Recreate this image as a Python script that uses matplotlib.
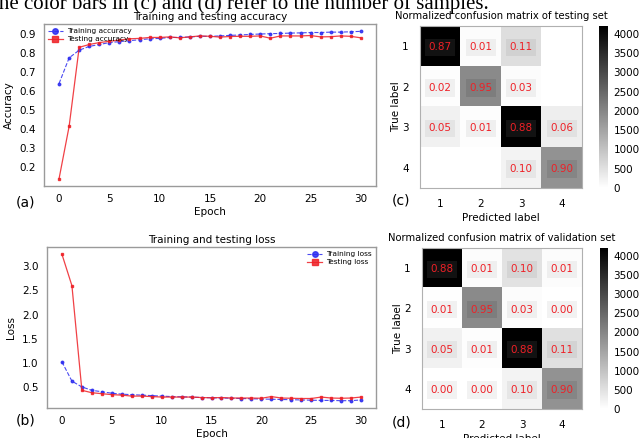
import numpy as np
import matplotlib
matplotlib.use("Agg")
import matplotlib.pyplot as plt

# --- data ---
epochs = list(range(31))

train_acc = [0.64, 0.775, 0.815, 0.835, 0.845, 0.855, 0.86, 0.865, 0.87, 0.875,
             0.877, 0.882, 0.882, 0.885, 0.888, 0.888, 0.89, 0.893, 0.895, 0.898,
             0.90, 0.902, 0.903, 0.905, 0.906, 0.908, 0.908, 0.91, 0.91, 0.912, 0.914]
test_acc = [0.14, 0.415, 0.83, 0.845, 0.855, 0.862, 0.868, 0.875, 0.877, 0.882,
            0.882, 0.885, 0.88, 0.885, 0.89, 0.888, 0.884, 0.887, 0.888, 0.888,
            0.89, 0.878, 0.89, 0.89, 0.89, 0.892, 0.885, 0.886, 0.89, 0.888, 0.88]

train_loss = [1.02, 0.62, 0.50, 0.43, 0.40, 0.37, 0.35, 0.34, 0.33, 0.32,
              0.31, 0.30, 0.295, 0.29, 0.28, 0.275, 0.27, 0.265, 0.26, 0.255,
              0.25, 0.245, 0.24, 0.235, 0.23, 0.225, 0.22, 0.22, 0.215, 0.215, 0.23]
test_loss = [3.25, 2.60, 0.43, 0.38, 0.36, 0.34, 0.33, 0.31, 0.31, 0.30,
             0.29, 0.29, 0.29, 0.29, 0.28, 0.275, 0.28, 0.27, 0.27, 0.27,
             0.265, 0.30, 0.27, 0.265, 0.26, 0.26, 0.29, 0.27, 0.265, 0.27, 0.29]

class_labels = ["1", "2", "3", "4"]

# sample counts (colour) and normalized values (text) for the two matrices
counts_test = np.array([[4300, 50, 545, 0],
                        [40, 1930, 60, 0],
                        [240, 48, 4200, 290],
                        [0, 0, 200, 1800]])
norm_test = [[0.87, 0.01, 0.11, None],
             [0.02, 0.95, 0.03, None],
             [0.05, 0.01, 0.88, 0.06],
             [None, None, 0.10, 0.90]]

counts_val = np.array([[4300, 50, 490, 50],
                       [20, 1930, 60, 0],
                       [240, 48, 4200, 520],
                       [0, 0, 200, 1800]])
norm_val = [[0.88, 0.01, 0.10, 0.01],
            [0.01, 0.95, 0.03, 0.00],
            [0.05, 0.01, 0.88, 0.11],
            [0.00, 0.00, 0.10, 0.90]]

cbar_ticks = list(range(0, 4001, 500))

BLUE = "#2b2bf0"
RED = "#ee2026"
FRAME = "#9a9a9a"
VMAX = 4200

fig = plt.figure(figsize=(6.42, 4.38), dpi=100)

# caption fragment cut off at the top of the crop
fig.text(-0.0115, 0.979, "the color bars in (c) and (d) refer to the number of samples.",
         family="Liberation Serif", fontsize=15, va="baseline", ha="left")


def style_frame(ax):
    for s in ax.spines.values():
        s.set_color(FRAME)
        s.set_linewidth(1.0)
    ax.tick_params(length=0, labelsize=7.5, pad=6)


def line_panel(rect, tr, te, tr_lab, te_lab, title, ylabel, loc):
    ax = fig.add_axes(rect)
    ax.plot(epochs, tr, linestyle="--", color=BLUE, lw=0.8, marker="o",
            markersize=1.8, label=tr_lab, alpha=0.85)
    ax.plot(epochs, te, linestyle="-", color=RED, lw=0.9, marker="s",
            markersize=1.8, label=te_lab, alpha=0.85)
    ax.set_xticks([0, 5, 10, 15, 20, 25, 30])
    ax.set_title(title, fontsize=7.5, pad=3)
    ax.set_ylabel(ylabel, fontsize=7.5, labelpad=4)
    ax.set_xlabel("Epoch", fontsize=7.5, labelpad=2)
    style_frame(ax)
    ax.legend(loc=loc, fontsize=5.3, frameon=False, handlelength=2.0,
              borderaxespad=0.15, labelspacing=0.25, markerscale=2.2,
              handletextpad=0.6)
    return ax


ax_a = line_panel([0.0685, 0.5753, 0.5171, 0.3699], train_acc, test_acc,
                  "Training accuracy", "Testing accuracy",
                  "Training and testing accuracy", "Accuracy", "upper left")
ax_a.set_yticks([0.2, 0.3, 0.4, 0.5, 0.6, 0.7, 0.8, 0.9])

ax_b = line_panel([0.0732, 0.0685, 0.5125, 0.3676], train_loss, test_loss,
                  "Training loss", "Testing loss",
                  "Training and testing loss", "Loss", "upper right")
ax_b.set_yticks([0.5, 1.0, 1.5, 2.0, 2.5, 3.0])


def cm_panel(rect, cbar_rect, counts, norm, title):
    ax = fig.add_axes(rect)
    cmap = plt.get_cmap("gray_r")
    im = ax.imshow(counts, cmap=cmap, vmin=0, vmax=VMAX, aspect="auto")
    for i in range(4):
        for j in range(4):
            v = norm[i][j]
            if v is None:
                continue
            c = 1 - counts[i, j] / VMAX
            c = min(max(c, 0), 1)
            box = c + 0.07 if c < 0.5 else c - 0.05
            ax.text(j, i + 0.03, f"{v:.2f}", ha="center", va="center",
                    color=RED, fontsize=7.5,
                    bbox=dict(boxstyle="square,pad=0.35", fc=(box, box, box),
                              ec="none"))
    ax.set_xticks(range(4))
    ax.set_yticks(range(4))
    ax.set_xticklabels(class_labels)
    ax.set_yticklabels(class_labels)
    ax.set_title(title, fontsize=7.2, pad=5)
    ax.set_xlabel("Predicted label", fontsize=7.5, labelpad=3)
    ax.set_ylabel("True label", fontsize=7.5, labelpad=1)
    for s in ax.spines.values():
        s.set_color("#b0b0b0")
        s.set_linewidth(0.8)
    ax.tick_params(length=0, labelsize=7.5, pad=8)
    cax = fig.add_axes(cbar_rect)
    cb = fig.colorbar(im, cax=cax, ticks=cbar_ticks)
    cb.outline.set_visible(False)
    cax.tick_params(length=0, labelsize=7.5, pad=4)
    return ax


cm_panel([0.6542, 0.5708, 0.2523, 0.3699], [0.933, 0.5708, 0.014, 0.3699],
         counts_test, norm_test, "Normalized confusion matrix of testing set")
cm_panel([0.6573, 0.0662, 0.2492, 0.3676], [0.934, 0.0662, 0.013, 0.3676],
         counts_val, norm_val, "Normalized confusion matrix of validation set")

for x, y, lab in [(0.040, 0.538, "(a)"), (0.040, 0.041, "(b)"),
                  (0.625, 0.543, "(c)"), (0.626, 0.036, "(d)")]:
    fig.text(x, y, lab, fontsize=10, ha="center", va="center")

fig.savefig("out.png", dpi=100)
